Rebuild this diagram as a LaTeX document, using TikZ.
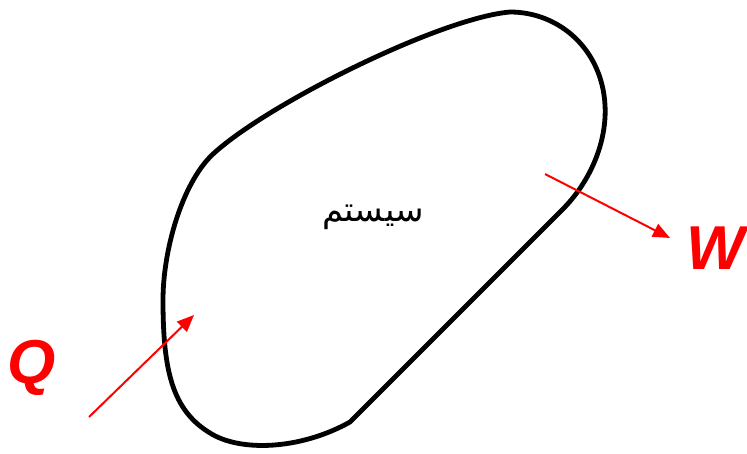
\documentclass[tikz,border=0pt]{standalone}
\usepackage{fontspec}
\setmainfont{Liberation Sans}
\newfontfamily\arabicfont[Script=Arabic]{DejaVu Sans}
\TeXXeTstate=1
\usetikzlibrary{arrows.meta}

\begin{document}
\begin{tikzpicture}[x=1pt,y=-1pt,
  boundary/.style={draw,line width=4.8pt,line join=round},
  flow/.style={draw=red,line width=2pt,-{Triangle[length=17pt,width=14pt]}},
  qty/.style={text=red,font=\fontsize{62}{62}\selectfont\bfseries\itshape}]
\useasboundingbox (0,0) rectangle (747,453);
% the system boundary
\draw[boundary] (350,422) -- (562,210)
  .. controls (592,180) and (607,140) .. (605,105)
  .. controls (602,50) and (560,12) .. (510,12)
  .. controls (440,18) and (265,105) .. (212,155)
  .. controls (182,184) and (163,250) .. (163,300)
  .. controls (163,370) and (172,410) .. (210,433)
  .. controls (240,452) and (300,450) .. cycle;
\node[font=\arabicfont\fontsize{34}{34}\selectfont] (sys) at (373,217) {\beginR سیستم\endR};
% heat in, work out
\node[qty] (q) at (32,368) {Q};
\node[qty] (w) at (716,248) {W};
\coordinate (qtail) at (89,417);
\coordinate (qhead) at (194,315);
\coordinate (wtail) at (545,174);
\coordinate (whead) at (670,238);
\draw[flow] (qtail) -- (qhead);
\draw[flow] (wtail) -- (whead);
\end{tikzpicture}
\end{document}
